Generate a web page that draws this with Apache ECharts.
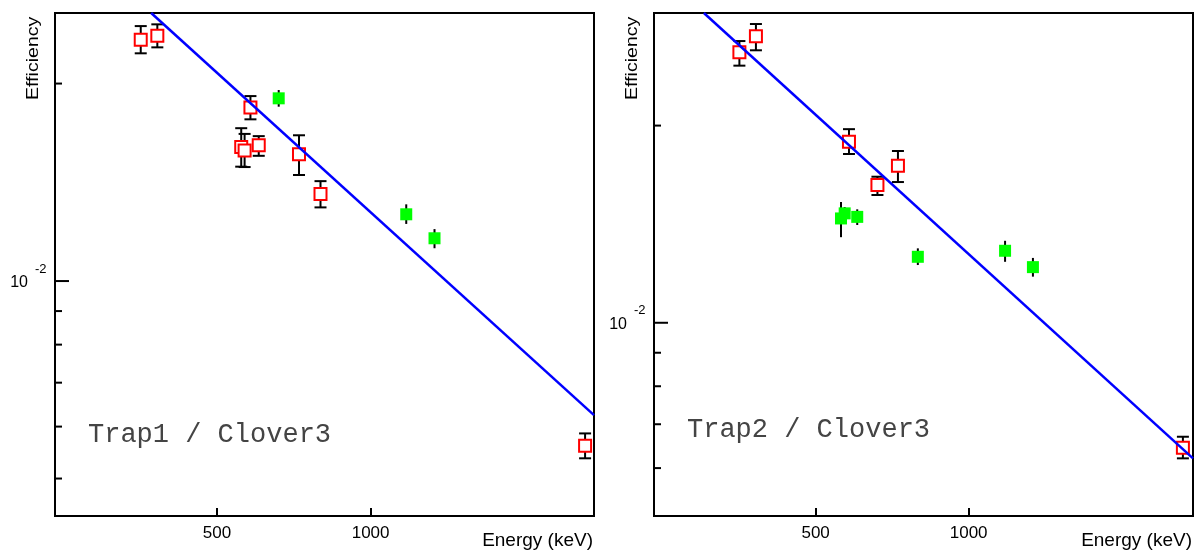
<!DOCTYPE html>
<html>
<head>
<meta charset="utf-8">
<title>Efficiency vs energy</title>
<script src="https://cdn.jsdelivr.net/npm/echarts@6/dist/echarts.min.js"></script>
<style>
  html, body { margin: 0; padding: 0; background: #fff; }
  #chart { width: 1200px; height: 551px; }
</style>
</head>
<body>
<div id="chart"></div>
<script>
// ---- Trap1 / Clover3 (left) ----
var t1RedE   = [252, 306, 579, 590, 609, 636, 767, 837, 1698];
var t1RedEff = [0.02332, 0.02365, 0.01601, 0.01581, 0.01839, 0.01610, 0.01560, 0.01357, 0.005610];
var t1RedHi  = [0.02447, 0.02462, 0.01710, 0.01676, 0.01914, 0.01663, 0.01668, 0.01420, 0.005858];
var t1RedLo  = [0.02224, 0.02271, 0.01494, 0.01492, 0.01764, 0.01552, 0.01451, 0.01295, 0.005368];
var t1GreenE   = [701, 1116, 1208];
var t1GreenEff = [0.01899, 0.01264, 0.01162];
var t1GreenHi  = [0.01955, 0.01309, 0.01200];
var t1GreenLo  = [0.01844, 0.01222, 0.01122];
var t1FitE   = [286, 1727];
var t1FitEff = [0.02562, 0.006247];

// ---- Trap2 / Clover3 (right) ----
var t2RedE   = [251, 305, 609, 702, 769, 1700];
var t2RedEff = [0.02587, 0.02737, 0.01889, 0.01623, 0.01736, 0.006443];
var t2RedHi  = [0.02692, 0.02858, 0.01975, 0.01671, 0.01829, 0.006699];
var t2RedLo  = [0.02469, 0.02606, 0.01810, 0.01567, 0.01640, 0.006209];
var t2GreenE   = [583, 595, 636, 834, 1119, 1210];
var t2GreenEff = [0.01443, 0.01469, 0.01451, 0.01261, 0.01288, 0.01216];
var t2GreenHi  = [0.01529, 0.01502, 0.01490, 0.01299, 0.01334, 0.01256];
var t2GreenLo  = [0.01351, 0.01435, 0.01410, 0.01225, 0.01239, 0.01176];
var t2FitE   = [135, 1733];
var t2FitEff = [0.02971, 0.006209];

// axis ticks
var xTickVals = [500, 1000];
var yTickVals = [0.005, 0.006, 0.007, 0.008, 0.009, 0.01, 0.02];
var panelTitles = ['Trap1 / Clover3', 'Trap2 / Clover3'];

var panels = [
  { left: 55, xMin: -27, xMax: 1727, yMin: 0.004384, yMax: 0.02562,
    red: [t1RedE, t1RedEff, t1RedLo, t1RedHi], green: [t1GreenE, t1GreenEff, t1GreenLo, t1GreenHi],
    fit: [t1FitE, t1FitEff], textY: 435 },
  { left: 654, xMin: -28, xMax: 1733, yMin: 0.005070, yMax: 0.02971,
    red: [t2RedE, t2RedEff, t2RedLo, t2RedHi], green: [t2GreenE, t2GreenEff, t2GreenLo, t2GreenHi],
    fit: [t2FitE, t2FitEff], textY: 430 }
];

var FONT = 'Liberation Sans, Arial, Helvetica, sans-serif';

function zip(a, b) {
  return a.map(function (v, i) { return [v, b[i]]; });
}

function errorBars(withCaps) {
  return function (params, api) {
    var x = api.value(0);
    var lo = api.coord([x, api.value(1)]);
    var hi = api.coord([x, api.value(2)]);
    var st = { stroke: '#000', lineWidth: 2 };
    var kids = [{ type: 'line', shape: { x1: hi[0], y1: hi[1], x2: lo[0], y2: lo[1] }, style: st }];
    if (withCaps) {
      kids.push({ type: 'line', shape: { x1: hi[0] - 6, y1: hi[1], x2: hi[0] + 6, y2: hi[1] }, style: st });
      kids.push({ type: 'line', shape: { x1: lo[0] - 6, y1: lo[1], x2: lo[0] + 6, y2: lo[1] }, style: st });
    }
    return { type: 'group', children: kids };
  };
}

function yTicks(params, api) {
  var v = api.value(1);
  var p = api.coord([api.value(0), v]);
  var major = Math.abs(v - 0.01) < 1e-9;
  var kids = [{ type: 'line', shape: { x1: p[0], y1: p[1], x2: p[0] + (major ? 14 : 7), y2: p[1] },
               style: { stroke: '#000', lineWidth: 2 } }];
  if (major) {
    kids.push({ type: 'text', x: p[0] - 27, y: p[1] + 1.5,
      style: { text: '10', fontSize: 16, fontFamily: FONT, fill: '#000', align: 'right', verticalAlign: 'middle' } });
    kids.push({ type: 'text', x: p[0] - 20, y: p[1] - 12,
      style: { text: '-2', fontSize: 13, fontFamily: FONT, fill: '#000', align: 'left', verticalAlign: 'middle' } });
  }
  return { type: 'group', children: kids };
}

var grids = [], xAxes = [], yAxes = [], series = [], graphics = [];

panels.forEach(function (p, i) {
  grids.push({ left: p.left, top: 13, width: 539, height: 503, show: true,
               borderColor: '#000', borderWidth: 2, backgroundColor: 'transparent' });
  xAxes.push({
    gridIndex: i, type: 'value', min: p.xMin, max: p.xMax,
    axisLine: { show: false },
    splitLine: { show: false },
    axisTick: { show: true, inside: true, length: 8, customValues: xTickVals,
                lineStyle: { color: '#000', width: 2 } },
    axisLabel: { customValues: xTickVals, margin: 9, fontSize: 17, fontFamily: FONT, color: '#000',
                 formatter: function (v) { return String(v); } }
  });
  yAxes.push({
    gridIndex: i, type: 'log', logBase: 10, min: p.yMin, max: p.yMax,
    axisLine: { show: false }, axisTick: { show: false },
    axisLabel: { show: false }, splitLine: { show: false }
  });

  series.push({
    type: 'custom', xAxisIndex: i, yAxisIndex: i, renderItem: errorBars(true),
    encode: { x: 0, y: [1, 2] },
    data: p.red[0].map(function (e, k) { return [e, p.red[2][k], p.red[3][k]]; })
  });
  series.push({
    type: 'custom', xAxisIndex: i, yAxisIndex: i, renderItem: errorBars(false),
    encode: { x: 0, y: [1, 2] },
    data: p.green[0].map(function (e, k) { return [e, p.green[2][k], p.green[3][k]]; })
  });
  series.push({
    type: 'scatter', xAxisIndex: i, yAxisIndex: i, symbol: 'rect', symbolSize: 12,
    itemStyle: { color: '#fff', borderColor: '#ff0000', borderWidth: 2, opacity: 1 },
    data: zip(p.red[0], p.red[1])
  });
  series.push({
    type: 'scatter', xAxisIndex: i, yAxisIndex: i, symbol: 'rect', symbolSize: 12,
    itemStyle: { color: '#00ff00', opacity: 1 },
    data: zip(p.green[0], p.green[1])
  });
  series.push({
    type: 'line', xAxisIndex: i, yAxisIndex: i, showSymbol: false, symbol: 'none',
    lineStyle: { color: '#0000ff', width: 2.5 },
    data: zip(p.fit[0], p.fit[1])
  });
  series.push({
    type: 'custom', xAxisIndex: i, yAxisIndex: i, renderItem: yTicks,
    encode: { x: 0, y: 1 },
    data: yTickVals.filter(function (v) { return v >= p.yMin && v <= p.yMax; })
                   .map(function (v) { return [p.xMin, v]; })
  });

  graphics.push({
    type: 'text', x: p.left - 22, y: 100, rotation: Math.PI / 2,
    style: { text: 'Efficiency', fontSize: 17, fontFamily: FONT, fill: '#000',
             align: 'left', verticalAlign: 'middle' }, scaleX: 1.15
  });
  graphics.push({
    type: 'text', x: p.left + 538, y: 541,
    style: { text: 'Energy (keV)', fontSize: 19, fontFamily: FONT, fill: '#000',
             align: 'right', verticalAlign: 'middle' }
  });
  graphics.push({
    type: 'text', x: p.left + 33, y: p.textY,
    style: { text: panelTitles[i], fontSize: 27, fontFamily: 'Liberation Mono, Courier New, monospace',
             fill: '#444', align: 'left', verticalAlign: 'middle' }
  });
});

var chart = echarts.init(document.getElementById('chart'));
chart.setOption({
  animation: false,
  backgroundColor: '#fff',
  grid: grids,
  xAxis: xAxes,
  yAxis: yAxes,
  series: series,
  graphic: graphics
});
</script>
</body>
</html>
